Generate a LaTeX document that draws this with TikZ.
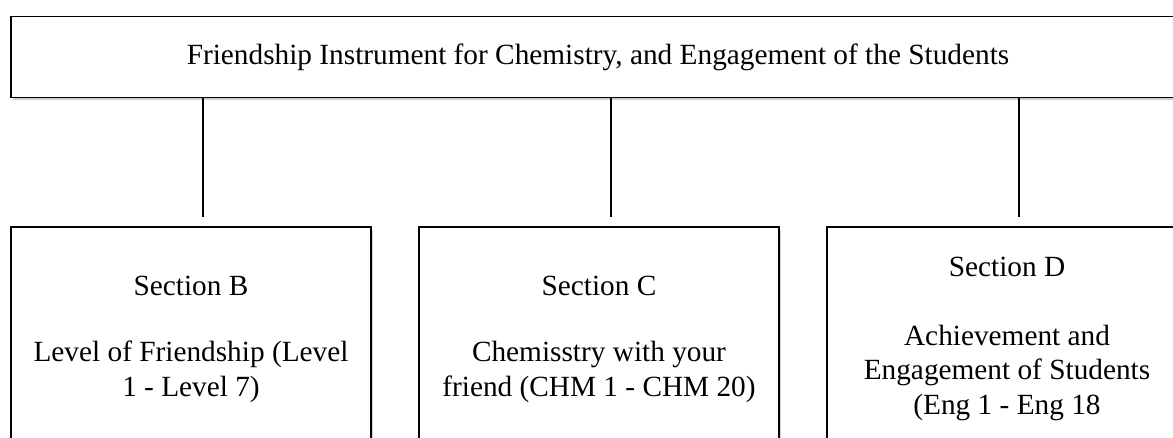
\documentclass[tikz,border=0pt]{standalone}
\usepackage{fontspec}
\setmainfont{Liberation Serif}
\usetikzlibrary{shadows}
\begin{document}
\begin{tikzpicture}[x=1pt,y=-1pt,
  boxstyle/.style={draw=black, line width=1.6pt, fill=white, rectangle, inner sep=0pt,
    align=center, font=\fontsize{29.3}{34.5}\selectfont,
    drop shadow={shadow xshift=1.5pt, shadow yshift=-2.5pt, opacity=0.18, fill=black}},
  linkstyle/.style={draw=black, line width=1.6pt}]
\useasboundingbox (0,0) rectangle (1173,437);
\clip (0,0) rectangle (1173,437);
\node[boxstyle, minimum width=1174pt, minimum height=81pt] (top) at (598,57)
  {Friendship Instrument for Chemistry, and Engagement of the Students};
\node[boxstyle, minimum width=360pt, minimum height=224pt] (secB) at (191,339)
  {Section B\\[32pt]Level of Friendship (Level\\1 - Level 7)};
\node[boxstyle, minimum width=360pt, minimum height=224pt] (secC) at (599,339)
  {Section C\\[32pt]Chemisstry with your\\friend (CHM 1 - CHM 20)};
\node[boxstyle, minimum width=360pt, minimum height=224pt] (secD) at (1007,339)
  {Section D\\[34pt]Achievement and\\Engagement of Students\\(Eng 1 - Eng 18};
\coordinate (endB) at (203,217);
\coordinate (endC) at (611,217);
\coordinate (endD) at (1019,217);
\draw[linkstyle] (top.south -| endB) -- (endB);
\draw[linkstyle] (top.south -| endC) -- (endC);
\draw[linkstyle] (top.south -| endD) -- (endD);
\end{tikzpicture}
\end{document}
